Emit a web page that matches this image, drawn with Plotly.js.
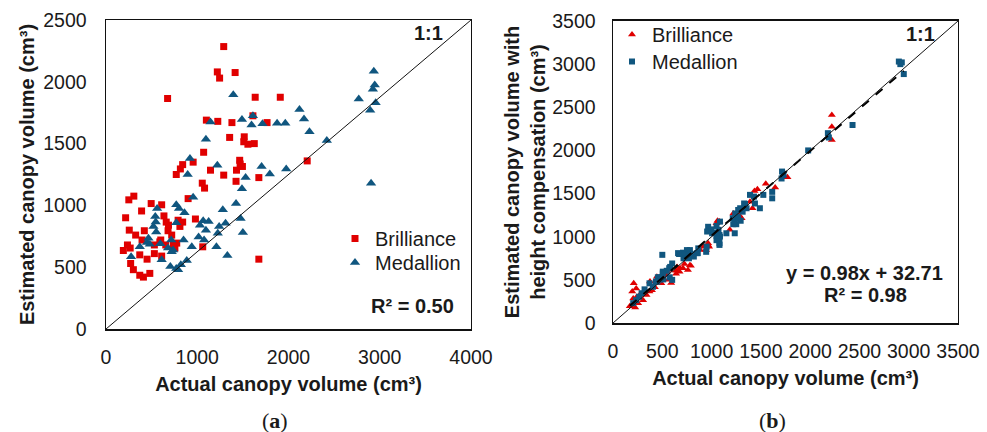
<!DOCTYPE html>
<html>
<head>
<meta charset="utf-8">
<script src="https://cdn.plot.ly/plotly-3.0.1.min.js"></script>
<style>
  html, body { margin: 0; padding: 0; background: #fff; }
  #chart { width: 987px; height: 432px; }
</style>
</head>
<body>
<div id="chart"></div>
<script>
// (a) canopy volume estimated without height compensation
const brillianceActualA = [1290,1220,1245,1415,675,1635,1910,1100,1225,1380,1610,1765,1355,1515,1510,1555,1625,1070,955,840,815,770,1145,1290,1465,1470,1430,1495,1425,1675,2205,1055,1080,900,980,1675,1060,
  305,250,495,610,390,215,635,660,790,840,255,420,680,810,325,395,600,720,235,190,265,530,655,775,370,530,610,450,270,300,370,410,480,755,685,590,740];
const brillianceEstA = [2285,2080,2030,2075,1865,1875,1875,1690,1680,1670,1725,1670,1550,1555,1515,1495,1500,1430,1350,1330,1295,1250,1285,1245,1365,1335,1285,1315,1195,1225,1360,1180,1140,1055,890,565,665,
  1075,1045,1015,1005,955,900,915,865,880,865,800,795,795,830,760,720,720,760,680,635,655,680,680,695,600,610,590,565,530,480,435,420,450,655,840,705,680];

const medallionActualA = [1395,1145,1490,1610,1595,1715,1875,1965,2120,2170,2230,2420,2770,2935,2945,2925,2955,2895,2905,1095,920,895,1220,1705,1795,1975,1530,1490,955,1425,1280,1475,1500,1330,1210,1310,1240,1225,1065,1125,1030,1015,1075,1095,940,
  770,800,860,560,540,545,770,520,550,465,450,370,480,595,715,735,850,680,720,275,610,705,770,820,885,790];
const medallionEstA = [1895,1675,1695,1725,1650,1660,1665,1665,1775,1700,1595,1525,1860,2085,1975,1940,1830,1770,1180,1535,1380,1250,1325,1315,1255,1295,1225,1135,1065,1015,965,895,780,595,665,855,830,775,875,870,840,745,720,800,665,
  1005,975,940,975,910,865,860,830,785,735,700,665,685,690,720,640,720,655,625,585,560,505,490,520,555,480];

// (b) canopy volume estimated with height compensation
const brillianceActualB = [2220,2220,2220,1770,1645,1550,1465,1435,1415,1390,1305,1280,1220,1060,1050,1080,1185,975,965,885,915,945,965,790,710,675,780,725,640,760,680,650,640,580,545,530,525,560,490,590,445,495,395,425,375,210,235,195,270,205,305,255,170,225,340,370,240,190];
const brillianceEstB = [2410,2275,2120,1690,1570,1615,1550,1530,1330,1405,1215,1250,1270,1185,1155,1175,1080,885,925,845,885,845,905,665,635,595,670,685,570,615,635,650,605,615,595,570,555,500,460,465,535,555,380,415,480,460,400,365,325,285,265,230,195,180,325,365,300,210];

const medallionActualB = [2900,2930,2915,2950,2430,2180,2190,1980,1715,1730,1710,1615,1615,1525,1490,1430,1440,1390,1340,1355,1330,1315,1290,1270,1260,1240,1295,1250,1235,1215,1270,1220,1235,1150,1085,1050,1070,1080,1085,1050,1080,1075,1050,1080,965,955,1000,1005,1020,945,950,865,860,850,820,780,790,750,755,710,730,715,770,670,660,500,600,580,570,545,505,505,470,455,575,600,510,475,450,435,370,405,290,265,235,205,320];
const medallionEstB = [3030,3020,3000,2885,2295,2200,2150,2000,1755,1715,1675,1520,1445,1485,1330,1465,1385,1485,1380,1330,1385,1290,1330,1310,1230,1270,1185,1145,1195,1215,1215,1145,1040,1040,1175,1125,1080,1020,1000,960,925,970,1010,905,1115,1060,1085,1040,1045,825,885,865,810,810,770,845,800,845,825,815,790,750,750,800,810,790,690,650,635,605,595,575,530,530,530,500,505,505,480,480,460,420,345,305,265,230,390];

// linear fit reported for (b)
const fitSlopeB = 0.98;
const fitInterceptB = 32.71;

const RED = '#E00000';
const BLUE = '#10567F';
const SANS = 'Liberation Sans, Arial, sans-serif';
const SERIF = 'Liberation Serif, Times New Roman, serif';

const allActualB = brillianceActualB.concat(medallionActualB);
const fitX = [Math.min(...allActualB), Math.max(...allActualB)];
const fitY = fitX.map(v => fitSlopeB * v + fitInterceptB);

const data = [
  { type: 'scatter', mode: 'markers', name: 'Brilliance', x: brillianceActualA, y: brillianceEstA,
    xaxis: 'x', yaxis: 'y', legend: 'legend',
    marker: { symbol: 'square', size: 7, color: RED, line: { width: 0 } } },
  { type: 'scatter', mode: 'markers', name: 'Medallion', x: medallionActualA, y: medallionEstA,
    xaxis: 'x', yaxis: 'y', legend: 'legend2',
    marker: { symbol: 'triangle-up', size: 9, color: BLUE, line: { width: 0 } } },
  { type: 'scatter', mode: 'markers', name: 'Brilliance', x: brillianceActualB, y: brillianceEstB,
    xaxis: 'x2', yaxis: 'y2', legend: 'legend3',
    marker: { symbol: 'triangle-up', size: 7, color: RED, line: { width: 0 } } },
  { type: 'scatter', mode: 'markers', name: 'Medallion', x: medallionActualB, y: medallionEstB,
    xaxis: 'x2', yaxis: 'y2', legend: 'legend4',
    marker: { symbol: 'square', size: 6, color: BLUE, line: { width: 0 } } },
  { type: 'scatter', mode: 'lines', x: fitX, y: fitY, xaxis: 'x2', yaxis: 'y2', showlegend: false,
    line: { color: '#000', width: 2, dash: 'dash' }, hoverinfo: 'skip' }
];

const tickFont = { family: SANS, size: 19.5, color: '#1a1a1a' };
const titleFont = { family: SANS, size: 20, color: '#1a1a1a', weight: 'bold' };
const axisBase = {
  showgrid: false, zeroline: false, showline: true, mirror: true,
  linecolor: '#111', linewidth: 1.5, ticks: '', tickfont: tickFont, fixedrange: true
};

function legendAt(px, py) {
  return {
    x: px / 987, y: (432 - py) / 432, xanchor: 'left', yanchor: 'top',
    bgcolor: 'rgba(0,0,0,0)', borderwidth: 0,
    font: { family: SANS, size: 20, color: '#1a1a1a' }
  };
}

const layout = {
  width: 987, height: 432,
  margin: { l: 0, r: 0, t: 0, b: 0 },
  paper_bgcolor: '#fff', plot_bgcolor: '#fff',
  font: { family: SANS },
  xaxis: Object.assign({}, axisBase, {
    domain: [0.1074, 0.4772], range: [0, 4000], dtick: 1000, anchor: 'y',
    ticklabelstandoff: 10,
    title: { text: 'Actual canopy volume (cm³)', font: titleFont, standoff: 10 }
  }),
  yaxis: Object.assign({}, axisBase, {
    domain: [0.2384, 0.9537], range: [0, 2500], dtick: 500, anchor: 'x',
    ticklabelstandoff: 14,
    title: { text: 'Estimated canopy volume (cm³)', font: titleFont, standoff: 3 }
  }),
  xaxis2: Object.assign({}, axisBase, {
    domain: [0.6211, 0.9706], range: [0, 3500], dtick: 500, anchor: 'y2',
    ticklabelstandoff: 10,
    title: { text: 'Actual canopy volume (cm³)', font: titleFont, standoff: 10 }
  }),
  yaxis2: Object.assign({}, axisBase, {
    domain: [0.2523, 0.9514], range: [0, 3500], dtick: 500, anchor: 'x2',
    ticklabelstandoff: 12,
    title: { text: 'Estimated canopy volume with<br>height compensation (cm³)', font: titleFont, standoff: 1 }
  }),
  legend: legendAt(335, 219),
  legend2: legendAt(335, 243),
  legend3: legendAt(612, 15),
  legend4: legendAt(612, 42),
  shapes: [
    // diagonal reference line across panel (a)
    { type: 'line', xref: 'x domain', yref: 'y domain', x0: 0, y0: 0, x1: 1, y1: 1,
      line: { color: '#111', width: 1 } },
    // 1:1 line in panel (b)
    { type: 'line', xref: 'x2', yref: 'y2', x0: 0, y0: 0, x1: 3500, y1: 3500,
      line: { color: '#111', width: 1 } }
  ],
  annotations: [
    { xref: 'paper', yref: 'paper', x: 428 / 987, y: (432 - 33) / 432, text: '1:1', showarrow: false,
      font: titleFont, xanchor: 'center', yanchor: 'middle' },
    { xref: 'paper', yref: 'paper', x: 412 / 987, y: (432 - 306) / 432, text: 'R² = 0.50', showarrow: false,
      font: titleFont, xanchor: 'center', yanchor: 'middle' },
    { xref: 'paper', yref: 'paper', x: 920 / 987, y: (432 - 34) / 432, text: '1:1', showarrow: false,
      font: titleFont, xanchor: 'center', yanchor: 'middle' },
    { xref: 'paper', yref: 'paper', x: 864 / 987, y: (432 - 273) / 432, text: 'y = 0.98x + 32.71', showarrow: false,
      font: titleFont, xanchor: 'center', yanchor: 'middle' },
    { xref: 'paper', yref: 'paper', x: 865 / 987, y: (432 - 295) / 432, text: 'R² = 0.98', showarrow: false,
      font: titleFont, xanchor: 'center', yanchor: 'middle' },
    { xref: 'paper', yref: 'paper', x: 275 / 987, y: (432 - 420) / 432, text: '(<b>a</b>)', showarrow: false,
      font: { family: SERIF, size: 22, color: '#1a1a1a' }, xanchor: 'center', yanchor: 'middle' },
    { xref: 'paper', yref: 'paper', x: 772 / 987, y: (432 - 420) / 432, text: '(<b>b</b>)', showarrow: false,
      font: { family: SERIF, size: 22, color: '#1a1a1a' }, xanchor: 'center', yanchor: 'middle' }
  ]
};

Plotly.newPlot('chart', data, layout, { displayModeBar: false, staticPlot: true });
</script>
</body>
</html>
